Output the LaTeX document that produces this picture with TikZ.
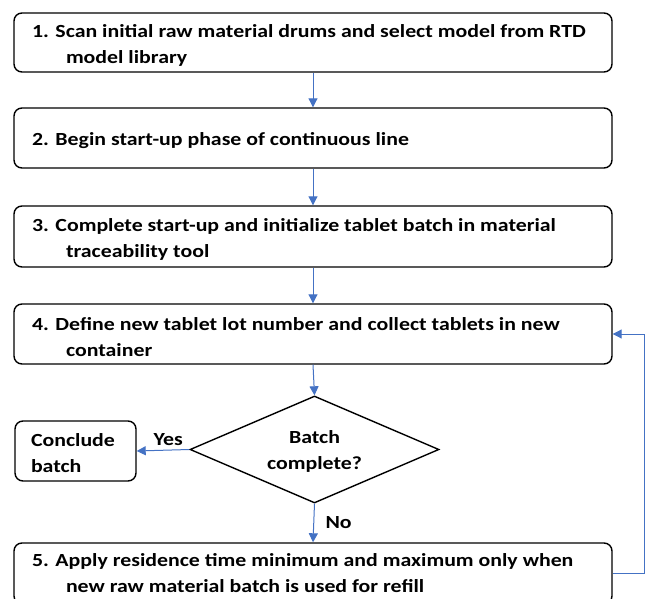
\documentclass[tikz,border=0pt]{standalone}
\usepackage{fontspec}
\setmainfont{Carlito}[FakeStretch=1.18]
\usetikzlibrary{arrows.meta,shapes.geometric}
\definecolor{flowblue}{HTML}{4472C4}
\tikzset{
  stepbox/.style={draw=black, line width=1.4pt, rounded corners=8pt, minimum width=598pt, inner xsep=18pt, inner ysep=0pt, align=left},
  flow/.style={draw=flowblue, line width=1pt, -{Triangle[length=9pt,width=9pt]}},
  lbl/.style={font=\fontsize{18.5}{26}\selectfont\bfseries}
}
\newcommand{\hangbody}[1]{\parbox{562pt}{\fontsize{18.5}{26}\selectfont\bfseries\rightskip=0pt plus 1fil\hbadness=10000\hfuzz=40pt\hyphenpenalty=10000\hangindent=34pt\hangafter=1 #1}}
\newcommand{\hangtext}[1]{\raisebox{-3pt}[\height][\depth]{\hangbody{#1}}}
\begin{document}
\begin{tikzpicture}[x=1pt,y=-1pt]
\clip (0,0) rectangle (646,599);
\node[stepbox, minimum height=59pt] (b1) at (313,42.5) {\hangtext{1. Scan initial raw material drums and select model from RTD\newline model library}};
\node[stepbox, minimum height=60pt] (b2) at (313,138) {\hangtext{2. Begin start-up phase of continuous\ line}};
\node[stepbox, minimum height=61pt] (b3) at (313,236.5) {\hangtext{3. Complete start-up and initialize tablet batch in material\newline traceability tool}};
\node[stepbox, minimum height=60pt] (b4) at (313,334) {\hangtext{4. Define new tablet lot number and collect tablets in new\newline container}};
\node[draw=black, line width=1.4pt, diamond, shape aspect=2.33, minimum width=249pt, minimum height=107pt, inner sep=0pt, align=center, lbl] (d) at (314.5,449.5) {\raisebox{-2pt}[\height][\depth]{\parbox{120pt}{\centering Batch\\complete?}}};
\node[draw=black, line width=1.4pt, rounded corners=8pt, minimum width=121pt, minimum height=60pt, inner xsep=16pt, inner ysep=0pt, align=left, lbl] (c) at (75.5,451) {\raisebox{-2pt}[\height][\depth]{\parbox{89pt}{Conclude\\batch}}};
\node[stepbox, minimum height=61pt] (b5) at (313,573.5) {\hangbody{5. Apply residence time minimum and maximum only when\newline new raw material batch is used for refill}};
\coordinate (r5) at (644.5,573.5);
\coordinate (r4) at (644.5,334);
\draw[flow] (b1.south) -- (b2.north);
\draw[flow] (b2.south) -- (b3.north);
\draw[flow] (b3.south) -- (b4.north);
\draw[flow] (b4.south) -- (d.north);
\draw[flow] (d.west) -- node[above, lbl, pos=0.4, yshift=1pt] (yes) {Yes} (c.east);
\draw[flow] (d.south) -- node[right, lbl, pos=0.5, xshift=8pt] (no) {No} (b5.north);
\draw[flow] (b5.east) -- (r5) -- (r4) -- (b4.east);
\end{tikzpicture}
\end{document}
